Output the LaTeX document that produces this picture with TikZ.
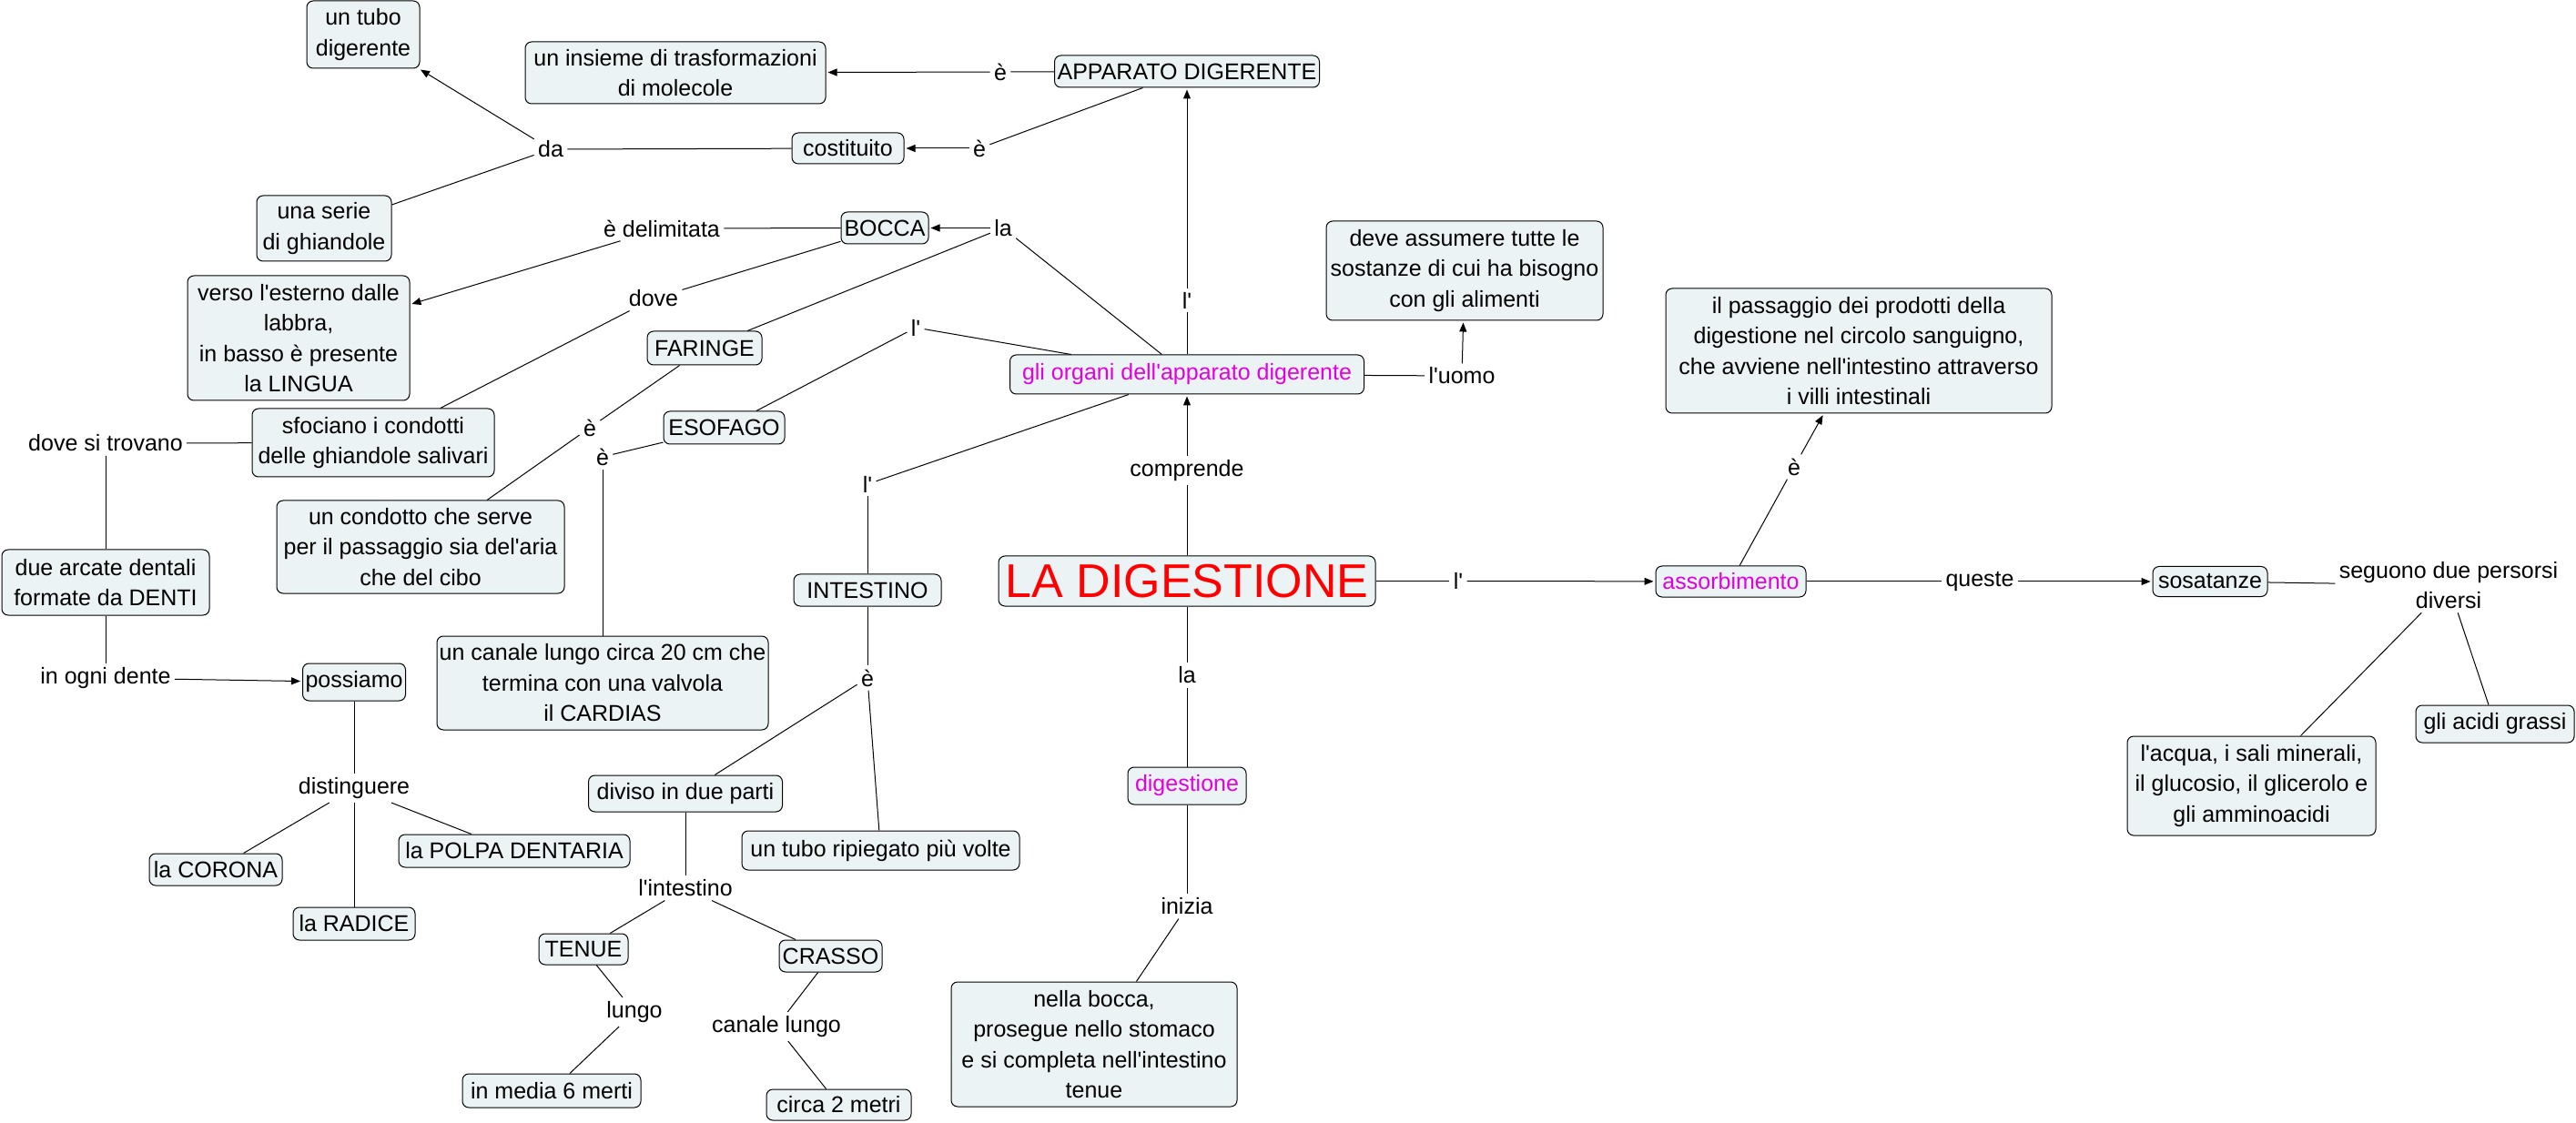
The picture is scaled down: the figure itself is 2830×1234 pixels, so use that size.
\documentclass[tikz,border=0pt]{standalone}
\usepackage{fontspec}
\setmainfont{Liberation Sans}[Ligatures=TeXOff]
\usetikzlibrary{arrows.meta}
\definecolor{boxfill}{RGB}{236,243,245}
\definecolor{mag}{RGB}{225,0,225}
\newcommand\myfs{\fontsize{12.5}{16.75}\selectfont}
\newcommand\mybigfs{\fontsize{26}{30}\selectfont}
\begin{document}
\begin{tikzpicture}[x=0.5pt,y=-0.5pt,
  box/.style={draw, line width=0.5pt, rounded corners=3.5pt, fill=boxfill, inner sep=0pt, align=center, font=\myfs},
  sz/.style 2 args={minimum width=#1*0.5pt, minimum height=#2*0.5pt},
  lab/.style={inner sep=2pt, align=center, font=\myfs},
  con/.style={line width=0.5pt},
  arr/.style={line width=0.5pt, -{Triangle[length=5pt,width=4pt]}, shorten >=1pt},
]
\fill[white] (0,0) rectangle (2830,1234);
\useasboundingbox (0,0) rectangle (2830,1234);

% boxes
\node[box,sz={124}{74}] (tubo) at (399,38) {un tubo\\digerente};
\node[box,sz={330}{68}] (insieme) at (742,80) {un insieme di trasformazioni\\di molecole};
\node[box,sz={291}{35}] (apparato) at (1304,78.5) {APPARATO DIGERENTE};
\node[box,sz={123}{34}] (costituito) at (931.5,163) {costituito};
\node[box,sz={148}{72}] (serie) at (356,251) {una serie\\di ghiandole};
\node[box,sz={96}{35}] (bocca) at (972,250.5) {BOCCA};
\node[box,sz={244}{137}] (verso) at (328,371.5) {verso l'esterno dalle\\labbra,\\in basso è presente\\la LINGUA};
\node[box,sz={126}{37}] (faringe) at (774,382.5) {FARINGE};
\node[box,sz={389}{43},text=mag] (organi) at (1304,411.5) {gli organi dell'apparato digerente};
\node[box,sz={304}{109}] (deve) at (1609,297.5) {deve assumere tutte le\\sostanze di cui ha bisogno\\con gli alimenti};
\node[box,sz={424}{137}] (passaggio) at (2042,385.5) {il passaggio dei prodotti della\\digestione nel circolo sanguigno,\\che avviene nell'intestino attraverso\\i villi intestinali};
\node[box,sz={266}{75}] (sfociano) at (410,486.5) {sfociano i condotti\\delle ghiandole salivari};
\node[box,sz={133}{36}] (esofago) at (795.5,470) {ESOFAGO};
\node[box,sz={316}{102}] (condotto) at (462,601) {un condotto che serve\\per il passaggio sia del'aria\\che del cibo};
\node[box,sz={228}{72}] (arcate) at (116,640) {due arcate dentali\\formate da DENTI};
\node[box,sz={162}{35}] (intestino) at (953,648.5) {INTESTINO};
\node[box,sz={414}{55},text=red,font=\mybigfs] (ladig) at (1304,638.5) {LA DIGESTIONE};
\node[box,sz={165}{34},text=mag] (assorb) at (1901.5,639) {assorbimento};
\node[box,sz={126}{33}] (sosatanze) at (2428,639) {sosatanze};
\node[box,sz={174}{41}] (acidi) at (2741,795.5) {gli acidi grassi};
\node[box,sz={273}{109}] (acqua) at (2473.5,863.5) {l'acqua, i sali minerali,\\il glucosio, il glicerolo e\\gli amminoacidi};
\node[box,sz={364}{103}] (canale) at (662,750.5) {un canale lungo circa 20 cm che\\termina con una valvola\\il CARDIAS};
\node[box,sz={113}{41}] (possiamo) at (389,749.5) {possiamo};
\node[box,sz={213}{40}] (diviso) at (753,872) {diviso in due parti};
\node[box,sz={305}{43}] (ripiegato) at (967.5,934.5) {un tubo ripiegato più volte};
\node[box,sz={130}{41},text=mag] (digestione) at (1304,863.5) {digestione};
\node[box,sz={254}{36}] (polpa) at (565,935) {la POLPA DENTARIA};
\node[box,sz={146}{35}] (corona) at (237,955.5) {la CORONA};
\node[box,sz={134}{36}] (radice) at (389,1015) {la RADICE};
\node[box,sz={98}{34}] (tenue) at (641,1043) {TENUE};
\node[box,sz={113}{35}] (crasso) at (912.5,1050.5) {CRASSO};
\node[box,sz={196}{37}] (media) at (606,1198.5) {in media 6 merti};
\node[box,sz={159}{34}] (circa) at (921.5,1214) {circa 2 metri};
\node[box,sz={314}{137}] (nella) at (1202,1147.5) {nella bocca,\\prosegue nello stomaco\\e si completa nell'intestino\\tenue};

% link labels
\node[lab] (L1) at (1099,79) {è};
\node[lab] (L2) at (1076,163) {è};
\node[lab] (L3) at (605,164) {da};
\node[lab] (L4) at (727,251) {è delimitata};
\node[lab] (L5) at (1102,250.5) {la};
\node[lab] (L6) at (718,328) {dove};
\node[lab] (L7) at (1304,330) {l'};
\node[lab] (L8) at (1006,360) {l'};
\node[lab] (L9) at (1606,413) {l'uomo};
\node[lab] (L10) at (648,470) {è};
\node[lab] (L11) at (662,502) {è};
\node[lab] (L12) at (116,487) {dove si trovano};
\node[lab] (L13) at (953,532) {l'};
\node[lab] (L14) at (1304,517) {comprende};
\node[lab] (L15) at (1602,638.5) {l'};
\node[lab] (L16) at (2175,639) {queste};
\node[lab] (L17) at (2690,643) {seguono due persorsi\\diversi};
\node[lab] (L18) at (1971,513) {è};
\node[lab] (L19) at (116,745) {in ogni dente};
\node[lab] (L20) at (953,745) {è};
\node[lab] (L21) at (1304,742) {la};
\node[lab] (L22) at (389,866) {distinguere};
\node[lab] (L23) at (753,976) {l'intestino};
\node[lab] (L24) at (697,1112) {lungo};
\node[lab] (L25) at (853,1128) {canale lungo};
\node[lab] (L26) at (1304,996) {inizia};

% connectors
\draw[con] (apparato) -- (L1); \draw[arr] (L1) -- (insieme);
\draw[con] (apparato) -- (L2); \draw[arr] (L2) -- (costituito);
\draw[con] (costituito) -- (L3); \draw[arr] (L3) -- (tubo); \draw[con] (L3) -- (serie);
\draw[con] (bocca) -- (L4); \draw[arr] (L4) -- (verso);
\draw[con] (bocca) -- (L6); \draw[con] (L6) -- (sfociano);
\draw[con] (organi) -- (L5); \draw[arr] (L5) -- (bocca); \draw[con] (L5) -- (faringe);
\draw[con] (organi) -- (L7); \draw[arr] (L7) -- (apparato);
\draw[con] (organi) -- (L8); \draw[con] (L8) -- (esofago);
\draw[con] (organi) -- (L9); \draw[arr] (L9) -- (deve);
\draw[con] (faringe) -- (L10); \draw[con] (L10) -- (condotto);
\draw[con] (esofago) -- (L11); \draw[con] (L11) -- (canale);
\draw[con] (sfociano) -- (L12); \draw[con] (L12) -- (arcate);
\draw[con] (arcate) -- (L19); \draw[arr] (L19) -- (possiamo);
\draw[con] (possiamo) -- (L22);
\draw[con] (L22) -- (corona); \draw[con] (L22) -- (radice); \draw[con] (L22) -- (polpa);
\draw[con] (organi) -- (L13); \draw[con] (L13) -- (intestino);
\draw[con] (intestino) -- (L20); \draw[con] (L20) -- (diviso); \draw[con] (L20) -- (ripiegato);
\draw[con] (diviso) -- (L23); \draw[con] (L23) -- (tenue); \draw[con] (L23) -- (crasso);
\draw[con] (tenue) -- (L24); \draw[con] (L24) -- (media);
\draw[con] (crasso) -- (L25); \draw[con] (L25) -- (circa);
\draw[con] (ladig) -- (L14); \draw[arr] (L14) -- (organi);
\draw[con] (ladig) -- (L15); \draw[arr] (L15) -- (assorb);
\draw[con] (ladig) -- (L21); \draw[con] (L21) -- (digestione);
\draw[con] (digestione) -- (L26); \draw[con] (L26) -- (nella);
\draw[con] (assorb) -- (L16); \draw[arr] (L16) -- (sosatanze);
\draw[con] (assorb) -- (L18); \draw[arr] (L18) -- (passaggio);
\draw[con] (sosatanze) -- (L17); \draw[con] (L17) -- (acqua); \draw[con] (L17) -- (acidi);
\end{tikzpicture}
\end{document}
